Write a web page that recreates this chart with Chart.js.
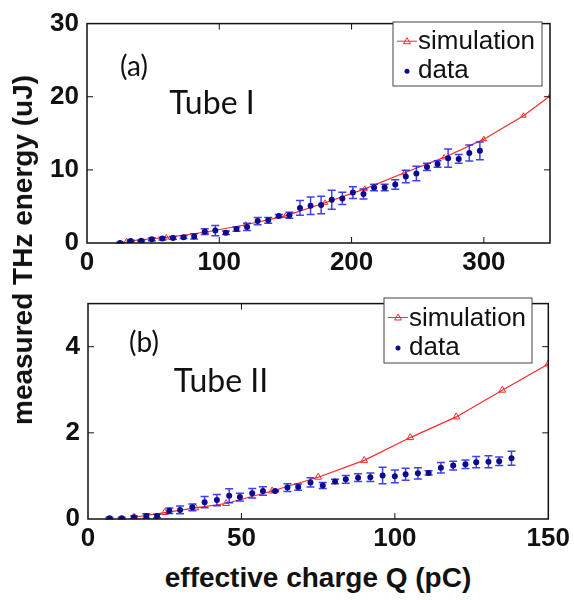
<!DOCTYPE html>
<html>
<head>
<meta charset="utf-8">
<script src="https://cdn.jsdelivr.net/npm/chart.js"></script>
<style>
  body { margin: 0; background: #fff; }
  #wrap { position: relative; width: 574px; height: 600px; overflow: hidden; }
  canvas { position: absolute; left: 0; }
  #chartA { top: 0; }
  #chartB { top: 280px; }
  .title { position: absolute; font-family: 'Liberation Sans', Arial, sans-serif; font-weight: bold; font-size: 28px; color: #111; white-space: nowrap; transform: translate(-50%, -50%); }
  #xTitle { left: 318px; top: 578px; }
  #yTitle { left: 23px; top: 250px; transform: translate(-50%, -50%) rotate(-90deg); }
</style>
</head>
<body>
<div id="wrap">
  <canvas id="chartA" width="574" height="280"></canvas>
  <canvas id="chartB" width="574" height="280"></canvas>
  <div class="title" id="xTitle">effective charge Q (pC)</div>
  <div class="title" id="yTitle">measured THz energy (uJ)</div>
</div>
<script>
// Panel (a) - Tube I
const chargeA = [25, 33, 41, 49, 57, 65, 73, 81, 89, 97, 105, 113, 121, 129, 137, 145, 153, 161, 169, 177, 185, 193, 201, 209, 217, 225, 233, 241, 249, 257, 265, 273, 281, 289, 297];
const energyA = [0, 0.27, 0.3, 0.5, 0.6, 0.7, 0.8, 0.9, 1.55, 1.7, 1.4, 1.9, 2.2, 3.0, 3.1, 3.7, 3.8, 4.8, 5.1, 5.2, 5.9, 6.1, 6.9, 6.7, 7.6, 7.6, 8.0, 9.1, 9.5, 10.4, 10.8, 11.6, 11.5, 12.3, 12.6];
const errA = [0.1, 0.1, 0.1, 0.2, 0.2, 0.2, 0.2, 0.35, 0.4, 0.7, 0.25, 0.3, 0.5, 0.5, 0.4, 0.2, 0.4, 1.0, 1.2, 1.2, 1.3, 0.85, 0.8, 0.7, 0.45, 0.45, 0.65, 0.85, 1.0, 0.5, 0.45, 1.25, 0.6, 1.1, 1.2];
const simChargeA = [30, 60, 90, 120, 150, 180, 210, 240, 270, 300, 330, 350];
const simEnergyA = [0.25, 0.75, 1.5, 2.5, 3.7, 5.5, 7.4, 9.6, 11.7, 14.2, 17.4, 20.1];
const xTicksA = [0, 100, 200, 300];
const yTicksA = [0, 10, 20, 30];

// Panel (b) - Tube II
const chargeB = [7, 11, 15, 19, 22.5, 26.5, 30, 34, 38, 42, 46, 49.5, 53.5, 57, 61, 65, 68.5, 72.5, 76.5, 80.5, 84, 88, 92, 96, 100, 103.5, 107.5, 111, 115, 119, 123, 126.5, 130.5, 134, 138];
const energyB = [0.02, 0.02, 0.04, 0.07, 0.07, 0.19, 0.21, 0.27, 0.39, 0.44, 0.54, 0.51, 0.6, 0.65, 0.65, 0.73, 0.74, 0.85, 0.78, 0.87, 0.92, 0.96, 0.97, 1.01, 0.99, 1.04, 1.06, 1.07, 1.19, 1.24, 1.27, 1.32, 1.33, 1.34, 1.41];
const errB = [0.02, 0.02, 0.03, 0.05, 0.04, 0.065, 0.09, 0.08, 0.13, 0.13, 0.16, 0.09, 0.11, 0.1, 0.02, 0.09, 0.07, 0.11, 0.07, 0.05, 0.09, 0.09, 0.1, 0.19, 0.15, 0.14, 0.13, 0.05, 0.12, 0.1, 0.1, 0.13, 0.14, 0.1, 0.16];
const simChargeB = [15, 25, 35, 45, 60, 75, 90, 105, 120, 135, 150];
const simEnergyB = [0.04, 0.15, 0.26, 0.36, 0.65, 0.97, 1.36, 1.89, 2.37, 2.99, 3.6];
const xTicksB = [0, 50, 100, 150];
const yTicksB = [0, 2, 4];

const RED = '#ff2a2a';
const NAVY = '#0b0b8c';
const BAR = 'rgba(30, 30, 235, 0.85)';
const tickFont = { family: "'Liberation Sans', Arial, sans-serif", size: 26, weight: 'bold' };

function toPoints(xs, ys) {
  return xs.map((x, i) => ({ x: x, y: ys[i] }));
}

// marcos, ticks hacia dentro, barras de error, leyenda y etiquetas
const panelPlugin = {
  id: 'panel',
  beforeDatasetDraw(chart, args) {
    if (args.index !== 0) return;
    const ds = chart.data.datasets[0];
    const xs = chart.scales.x, ys = chart.scales.y;
    const ctx = chart.ctx;
    ctx.save();
    ctx.strokeStyle = BAR;
    ctx.lineWidth = 1.5;
    ds.data.forEach((p, i) => {
      const e = ds.errors[i];
      const px = xs.getPixelForValue(p.x);
      const top = ys.getPixelForValue(p.y + e);
      const bot = ys.getPixelForValue(Math.max(p.y - e, 0));
      ctx.beginPath();
      ctx.moveTo(px, top); ctx.lineTo(px, bot);
      ctx.moveTo(px - 4, top); ctx.lineTo(px + 4, top);
      ctx.moveTo(px - 4, bot); ctx.lineTo(px + 4, bot);
      ctx.stroke();
    });
    ctx.restore();
  },
  afterDraw(chart, args, opts) {
    const ctx = chart.ctx;
    const a = chart.chartArea;
    const xs = chart.scales.x, ys = chart.scales.y;
    ctx.save();
    // marco
    ctx.strokeStyle = '#111';
    ctx.lineWidth = 1.5;
    ctx.strokeRect(a.left, a.top, a.right - a.left, a.bottom - a.top);
    // ticks
    ctx.lineWidth = 1;
    ctx.beginPath();
    xs.ticks.forEach(t => {
      const px = xs.getPixelForValue(t.value);
      if (px <= a.left + 1 || px >= a.right - 1) return;
      ctx.moveTo(px, a.bottom); ctx.lineTo(px, a.bottom - 6);
      ctx.moveTo(px, a.top); ctx.lineTo(px, a.top + 6);
    });
    ys.ticks.forEach(t => {
      const py = ys.getPixelForValue(t.value);
      if (py >= a.bottom - 1 || py <= a.top + 1) return;
      ctx.moveTo(a.left, py); ctx.lineTo(a.left + 6, py);
      ctx.moveTo(a.right, py); ctx.lineTo(a.right - 6, py);
    });
    ctx.stroke();

    // leyenda
    const L = opts.legend;
    ctx.fillStyle = '#fff';
    ctx.fillRect(L.x, L.y, L.w, L.h);
    ctx.strokeStyle = '#444';
    ctx.lineWidth = 1;
    ctx.strokeRect(L.x, L.y, L.w, L.h);
    const y1 = L.y + L.h * 0.3, y2 = L.y + L.h * 0.77;
    ctx.strokeStyle = RED;
    ctx.beginPath();
    ctx.moveTo(L.x + 4, y1); ctx.lineTo(L.x + 24, y1);
    ctx.stroke();
    const mx = L.x + 14;
    ctx.beginPath();
    ctx.moveTo(mx, y1 - 3.5); ctx.lineTo(mx + 3.5, y1 + 2.5); ctx.lineTo(mx - 3.5, y1 + 2.5); ctx.closePath();
    ctx.stroke();
    ctx.fillStyle = NAVY;
    ctx.beginPath();
    ctx.arc(mx, y2, 2.5, 0, Math.PI * 2);
    ctx.fill();
    ctx.fillStyle = '#111';
    ctx.font = "26px 'Liberation Sans', Arial, sans-serif";
    ctx.textBaseline = 'middle';
    ctx.textAlign = 'left';
    ctx.fillText('simulation', L.x + 25, y1 + 1);
    ctx.fillText('data', L.x + 25, y2);

    // etiquetas del panel
    ctx.textAlign = 'center';
    ctx.font = '28px Lato, sans-serif';
    ctx.fillText(opts.tag, opts.tagPos[0], opts.tagPos[1]);
    ctx.font = '32px Lato, sans-serif';
    ctx.fillText(opts.tube, opts.tubePos[0], opts.tubePos[1]);
    ctx.restore();
  }
};

function makePanel(canvasId, p) {
  return new Chart(document.getElementById(canvasId), {
    type: 'scatter',
    data: {
      datasets: [
        {
          label: 'data',
          data: toPoints(p.charge, p.energy),
          errors: p.err,
          showLine: false,
          pointRadius: 3,
          pointBackgroundColor: NAVY,
          pointBorderWidth: 0
        },
        {
          label: 'simulation',
          data: toPoints(p.simCharge, p.simEnergy),
          showLine: true,
          borderColor: RED,
          borderWidth: 1.2,
          pointStyle: 'triangle',
          pointRadius: p.markerSize,
          pointBorderColor: RED,
          pointBackgroundColor: 'rgba(0,0,0,0)',
          pointBorderWidth: 1
        }
      ]
    },
    options: {
      responsive: false,
      animation: false,
      layout: { padding: { top: p.padTop, right: 24, left: 0, bottom: 0 } },
      plugins: {
        legend: { display: false },
        tooltip: { enabled: false },
        panel: { legend: p.legend, tag: p.tag, tagPos: p.tagPos, tube: p.tube, tubePos: p.tubePos }
      },
      scales: {
        x: {
          type: 'linear',
          min: p.xTicks[0],
          max: p.xMax,
          grid: { display: false, drawTicks: false },
          border: { display: false },
          ticks: { font: tickFont, color: '#111', padding: 4, maxRotation: 0 },
          afterBuildTicks: s => { s.ticks = p.xTicks.map(v => ({ value: v })); },
          afterFit: s => { s.height = p.xAxisH; }
        },
        y: {
          min: 0,
          max: p.yMax,
          grid: { display: false, drawTicks: false },
          border: { display: false },
          ticks: { font: tickFont, color: '#111', padding: 8 },
          afterBuildTicks: s => { s.ticks = p.yTicks.map(v => ({ value: v })); },
          afterFit: s => { s.width = p.yAxisW; }
        }
      }
    },
    plugins: [panelPlugin]
  });
}

makePanel('chartA', {
  charge: chargeA, energy: energyA, err: errA,
  simCharge: simChargeA, simEnergy: simEnergyA,
  xTicks: xTicksA, yTicks: yTicksA, xMax: 350, yMax: 30,
  padTop: 18, xAxisH: 37, yAxisW: 87, markerSize: 3,
  legend: { x: 393, y: 22, w: 149, h: 64 },
  tag: '(a)', tagPos: [134, 67], tube: 'Tube I', tubePos: [212, 104]
});

makePanel('chartB', {
  charge: chargeB, energy: energyB, err: errB,
  simCharge: simChargeB, simEnergy: simEnergyB,
  xTicks: xTicksB, yTicks: yTicksB, xMax: 150, yMax: 5,
  padTop: 15, xAxisH: 41, yAxisW: 88, markerSize: 4,
  legend: { x: 384, y: 18, w: 148, h: 65 },
  tag: '(b)', tagPos: [144, 63], tube: 'Tube II', tubePos: [221, 102]
});
</script>
</body>
</html>
